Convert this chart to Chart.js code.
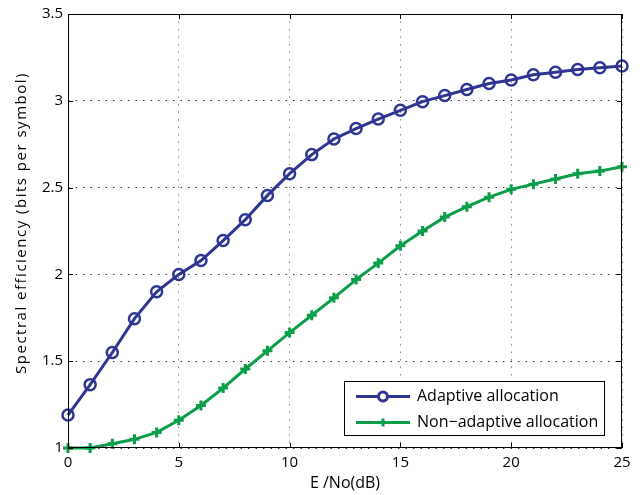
<!DOCTYPE html>
<html>
<head>
<meta charset="utf-8">
<script src="https://cdn.jsdelivr.net/npm/chart.js@4/dist/chart.umd.min.js"></script>
<style>
  html, body { margin: 0; padding: 0; background: #fff; }
  #wrap { width: 644px; height: 495px; }
</style>
</head>
<body>
<div id="wrap"><canvas id="chart" width="644" height="495"></canvas></div>
<script>
const snr = [0, 1, 2, 3, 4, 5, 6, 7, 8, 9, 10, 11, 12, 13, 14, 15, 16, 17, 18, 19, 20, 21, 22, 23, 24, 25];
const adaptive = [1.19, 1.365, 1.55, 1.745, 1.9, 2.0, 2.08, 2.195, 2.315, 2.455, 2.58, 2.69, 2.78, 2.84, 2.895, 2.945,
  2.995, 3.03, 3.065, 3.1, 3.12, 3.15, 3.165, 3.18, 3.19, 3.2];
const nonAdaptive = [1.0, 1.0, 1.025, 1.05, 1.09, 1.16, 1.245, 1.345, 1.455, 1.56, 1.665, 1.765, 1.865, 1.97, 2.065, 2.165,
  2.25, 2.33, 2.39, 2.445, 2.49, 2.52, 2.55, 2.58, 2.595, 2.62];
const xTicks = [0, 5, 10, 15, 20, 25];
const yTicks = [1, 1.5, 2, 2.5, 3, 3.5];
const xTitle = "E /No(dB)";
const yTitle = "Spectral efficiency (bits per symbol)";

const BLUE = "#2e3592";
const GREEN = "#0b9e4a";
const FONT = "'Open Sans', sans-serif";

function toPoints(ys) {
  return snr.map((x, i) => ({ x, y: ys[i] }));
}

// box, inward ticks, axis titles and the legend inside the plot, matlab style
const frame = {
  id: "frame",
  afterDraw(chart) {
    const { ctx, chartArea: a, scales } = chart;
    ctx.save();
    ctx.strokeStyle = "#000";
    ctx.lineWidth = 1;
    ctx.strokeRect(a.left + 0.5, a.top + 0.5, a.right - a.left - 1, a.bottom - a.top - 1);
    ctx.beginPath();
    xTicks.forEach((t) => {
      const px = Math.round(scales.x.getPixelForValue(t)) + 0.5;
      ctx.moveTo(px, a.bottom); ctx.lineTo(px, a.bottom - 5);
      ctx.moveTo(px, a.top); ctx.lineTo(px, a.top + 5);
    });
    yTicks.forEach((t) => {
      const py = Math.round(scales.y.getPixelForValue(t)) + 0.5;
      ctx.moveTo(a.left, py); ctx.lineTo(a.left + 5, py);
      ctx.moveTo(a.right, py); ctx.lineTo(a.right - 5, py);
    });
    ctx.stroke();

    // axis titles
    ctx.fillStyle = "#000";
    ctx.textAlign = "center";
    ctx.textBaseline = "middle";
    ctx.font = "16px " + FONT;
    ctx.fillText(xTitle, (a.left + a.right) / 2, 483);
    ctx.font = "15px " + FONT;
    ctx.save();
    ctx.translate(22, (a.top + a.bottom) / 2 - 8);
    ctx.rotate(-Math.PI / 2);
    ctx.letterSpacing = "1.5px";
    ctx.fillText(yTitle, 0, 0);
    ctx.restore();

    // legend
    const bx = 344.5, by = 381.5, bw = 260, bh = 54;
    ctx.fillStyle = "#fff";
    ctx.fillRect(bx, by, bw, bh);
    ctx.strokeRect(bx, by, bw, bh);
    ctx.font = "16px " + FONT;
    ctx.textAlign = "left";
    chart.data.datasets.forEach((ds, i) => {
      const y = by + 15 + i * 26;
      ctx.strokeStyle = ds.borderColor;
      ctx.lineWidth = 3;
      ctx.beginPath();
      ctx.moveTo(356, y); ctx.lineTo(410, y);
      ctx.stroke();
      Chart.helpers.drawPoint(ctx, {
        pointStyle: ds.pointStyle, radius: ds.pointRadius - 1, borderWidth: ds.pointBorderWidth
      }, 383, y);
      ctx.fillStyle = "#000";
      ctx.fillText(ds.label, 417, y);
    });
    ctx.restore();
  }
};

new Chart(document.getElementById("chart"), {
  type: "line",
  data: {
    datasets: [
      {
        label: "Adaptive allocation",
        data: toPoints(adaptive),
        borderColor: BLUE,
        backgroundColor: "rgba(0,0,0,0)",
        borderWidth: 3,
        pointStyle: "circle",
        pointRadius: 5.5,
        pointBorderWidth: 2.5,
        pointBackgroundColor: "rgba(0,0,0,0)",
        clip: false
      },
      {
        label: "Non\u2212adaptive allocation",
        data: toPoints(nonAdaptive),
        borderColor: GREEN,
        backgroundColor: GREEN,
        borderWidth: 3,
        pointStyle: "cross",
        pointRadius: 5,
        pointBorderWidth: 3,
        clip: false
      }
    ]
  },
  options: {
    responsive: false,
    animation: false,
    layout: { padding: { top: 12, right: 22, left: 0, bottom: 0 } },
    plugins: { legend: { display: false }, tooltip: { enabled: false } },
    scales: {
      x: {
        type: "linear",
        min: 0,
        max: 25,
        afterFit(scale) { scale.height = 47; },
        afterBuildTicks(scale) { scale.ticks = xTicks.map((v) => ({ value: v })); },
        ticks: { color: "#000", font: { family: FONT, size: 15 }, padding: 6, callback: (v) => String(v) },
        grid: { color: "#888", drawTicks: false },
        border: { display: false, dash: [1.5, 6] }
      },
      y: {
        type: "linear",
        min: 1,
        max: 3.5,
        afterFit(scale) { scale.width = 68; },
        afterBuildTicks(scale) { scale.ticks = yTicks.map((v) => ({ value: v })); },
        ticks: { color: "#000", font: { family: FONT, size: 15 }, padding: 5, callback: (v) => String(v) },
        grid: { color: "#333", drawTicks: false },
        border: { display: false, dash: [1.5, 6] }
      }
    }
  },
  plugins: [frame]
});
</script>
</body>
</html>
